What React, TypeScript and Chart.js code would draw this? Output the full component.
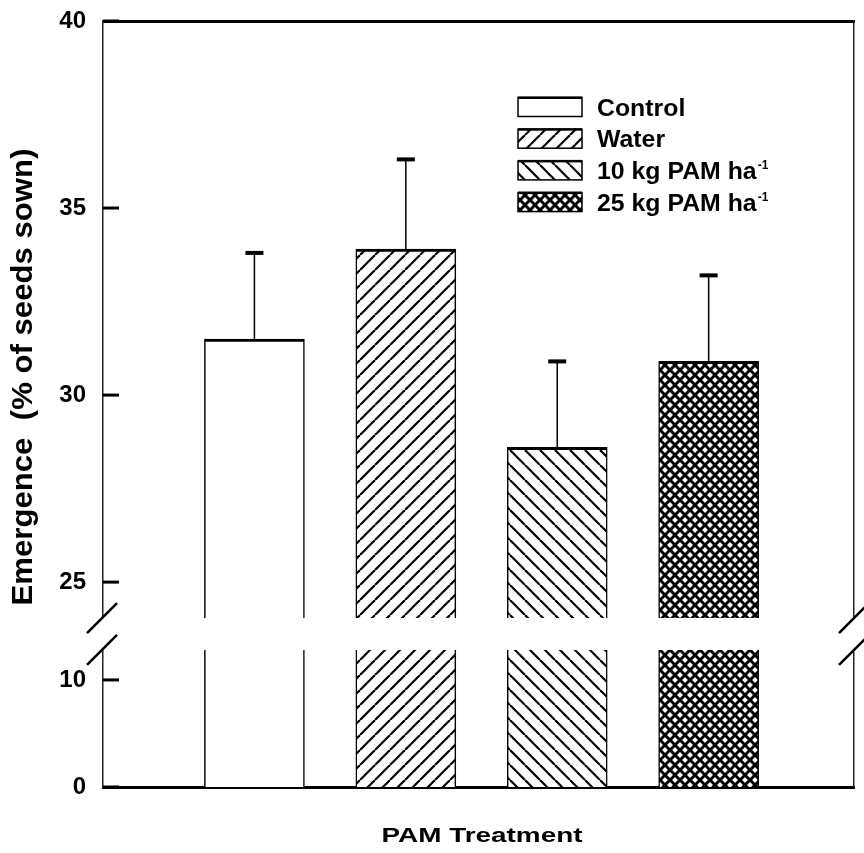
import React, { useEffect, useRef } from 'react';
import { Chart, registerables, LinearScale } from 'chart.js';

Chart.register(...registerables);

// ---- data ----
const categories = ['Control', 'Water', '10 kg PAM ha', '25 kg PAM ha'];
const unitSuperscripts = ['', '', '-1', '-1'];
const emergenceMeans = [31.5, 33.9, 28.6, 30.9];
const emergenceErrors = [2.3, 2.4, 2.3, 2.3];
const yTickValues = [0, 10, 25, 30, 35, 40];
const patternKinds = ['none', 'forward', 'backward', 'cross'];
const xTitle = 'PAM Treatment';
const yTitle = 'Emergence  (% of seeds sown)';

// ---- broken axis settings ----
const LOWER_MAX = 12.8;
const UPPER_MIN = 24.04;
const LOWER_FRAC = 0.1789;
const UPPER_FRAC = 0.2206;

const FONT = '"Liberation Sans", Arial, Helvetica, sans-serif';

class BrokenScale extends LinearScale {
  static id = 'broken';
  static defaults = LinearScale.defaults;
  getPixelForValue(value: number) {
    const min = this.min as number;
    const max = this.max as number;
    let d: number;
    if (value <= LOWER_MAX) d = ((value - min) / (LOWER_MAX - min)) * LOWER_FRAC;
    else if (value >= UPPER_MIN) d = UPPER_FRAC + ((value - UPPER_MIN) / (max - UPPER_MIN)) * (1 - UPPER_FRAC);
    else d = LOWER_FRAC + ((value - LOWER_MAX) / (UPPER_MIN - LOWER_MAX)) * (UPPER_FRAC - LOWER_FRAC);
    return this.getPixelForDecimal(d);
  }
  getValueForPixel(pixel: number) {
    const min = this.min as number;
    const max = this.max as number;
    const d = this.getDecimalForPixel(pixel);
    if (d <= LOWER_FRAC) return min + (d / LOWER_FRAC) * (LOWER_MAX - min);
    if (d >= UPPER_FRAC) return UPPER_MIN + ((d - UPPER_FRAC) / (1 - UPPER_FRAC)) * (max - UPPER_MIN);
    return LOWER_MAX + ((d - LOWER_FRAC) / (UPPER_FRAC - LOWER_FRAC)) * (UPPER_MIN - LOWER_MAX);
  }
}
Chart.register(BrokenScale as any);

function makePattern(kind: string): any {
  if (kind === 'none') return '#ffffff';
  const size = kind === 'cross' ? 10 : 15;
  const c = document.createElement('canvas');
  c.width = size;
  c.height = size;
  const g = c.getContext('2d')!;
  g.fillStyle = '#ffffff';
  g.fillRect(0, 0, size, size);
  g.strokeStyle = '#000';
  g.lineWidth = kind === 'cross' ? 3 : 2.2;
  const fwd = kind === 'forward' || kind === 'cross';
  const back = kind === 'backward' || kind === 'cross';
  for (let k = -1; k <= 1; k++) {
    if (fwd) {
      g.beginPath();
      g.moveTo(k * size, size);
      g.lineTo(k * size + size, 0);
      g.stroke();
    }
    if (back) {
      g.beginPath();
      g.moveTo(k * size, 0);
      g.lineTo(k * size + size, size);
      g.stroke();
    }
  }
  return g.createPattern(c, 'repeat');
}

// draws text horizontally stretched so that it spans targetWidth
function fittedText(
  ctx: CanvasRenderingContext2D,
  txt: string,
  x: number,
  y: number,
  size: number,
  targetWidth: number,
  align: CanvasTextAlign,
  rot = 0
) {
  ctx.save();
  ctx.font = `bold ${size}px ${FONT}`;
  const natural = ctx.measureText(txt).width;
  const sx = targetWidth / natural;
  ctx.translate(x, y);
  if (rot) ctx.rotate(rot);
  ctx.scale(sx, 1);
  ctx.textAlign = align;
  ctx.textBaseline = 'alphabetic';
  ctx.fillStyle = '#000';
  ctx.fillText(txt, 0, 0);
  ctx.restore();
  return targetWidth;
}

function scaledText(
  ctx: CanvasRenderingContext2D,
  txt: string,
  x: number,
  y: number,
  size: number,
  sx: number,
  align: CanvasTextAlign
) {
  ctx.save();
  ctx.font = `bold ${size}px ${FONT}`;
  const w = ctx.measureText(txt).width * sx;
  ctx.translate(x, y);
  ctx.scale(sx, 1);
  ctx.textAlign = align;
  ctx.textBaseline = 'alphabetic';
  ctx.fillStyle = '#000';
  ctx.fillText(txt, 0, 0);
  ctx.restore();
  return w;
}

export default function App() {
  const ref = useRef<HTMLCanvasElement>(null);

  useEffect(() => {
    const canvas = ref.current!;
    const patterns = patternKinds.map(makePattern);

    const overlay = {
      id: 'overlay',
      afterDatasetsDraw(chart: any) {
        const ctx: CanvasRenderingContext2D = chart.ctx;
        const area = chart.chartArea;
        const ys = chart.scales.y;
        const gapTop = ys.getPixelForValue(UPPER_MIN);
        const gapBottom = ys.getPixelForValue(LOWER_MAX);
        ctx.save();
        // white-out the axis break
        ctx.fillStyle = '#ffffff';
        ctx.fillRect(area.left - 4, gapTop, area.right - area.left + 14, gapBottom - gapTop);
        // break marks
        ctx.strokeStyle = '#000';
        ctx.lineWidth = 2.5;
        [area.left - 1, area.right].forEach((bx) => {
          [gapTop, gapBottom].forEach((by) => {
            ctx.beginPath();
            ctx.moveTo(bx - 15, by + 15);
            ctx.lineTo(bx + 15, by - 15);
            ctx.stroke();
          });
        });
        // inward tick marks
        ctx.lineWidth = 3;
        ys.ticks.forEach((t: any) => {
          const py = ys.getPixelForValue(t.value);
          ctx.beginPath();
          ctx.moveTo(area.left, py);
          ctx.lineTo(area.left + 16, py);
          ctx.stroke();
        });
        // error bars (upper whisker only)
        const meta = chart.getDatasetMeta(0);
        meta.data.forEach((el: any, i: number) => {
          const top = ys.getPixelForValue(emergenceMeans[i] + emergenceErrors[i]);
          ctx.lineWidth = 1.5;
          ctx.beginPath();
          ctx.moveTo(el.x, el.y);
          ctx.lineTo(el.x, top);
          ctx.stroke();
          ctx.fillStyle = '#000';
          ctx.fillRect(el.x - 9, top - 2, 18, 4);
        });
        ctx.restore();
      },
      afterDraw(chart: any) {
        const ctx: CanvasRenderingContext2D = chart.ctx;
        // axis titles
        fittedText(ctx, xTitle, 482, 842, 21, 201, 'center');
        fittedText(ctx, yTitle, 32, 377, 30, 457, 'center', -Math.PI / 2);
        // legend
        const boxX = 518;
        const boxW = 64;
        const boxH = 19;
        const textX = 597;
        const rowStart = 107;
        const rowGap = 31.7;
        categories.forEach((name, i) => {
          const cy = rowStart + i * rowGap;
          ctx.save();
          ctx.fillStyle = patterns[i];
          ctx.fillRect(boxX, cy - boxH / 2, boxW, boxH);
          ctx.strokeStyle = '#000';
          ctx.lineWidth = 1.5;
          ctx.strokeRect(boxX, cy - boxH / 2, boxW, boxH);
          ctx.fillStyle = '#000';
          ctx.fillRect(boxX, cy - boxH / 2 - 1, boxW, 2.5);
          ctx.restore();
          const w = scaledText(ctx, name, textX, cy + 8.5, 23, 1.08, 'left');
          if (unitSuperscripts[i]) {
            scaledText(ctx, unitSuperscripts[i], textX + w + 1, cy - 1, 12, 1.0, 'left');
          }
        });
      },
    };

    const chart = new Chart(canvas, {
      type: 'bar',
      data: {
        datasets: [
          {
            data: emergenceMeans.map((v, i) => ({ x: i + 1, y: v })) as any,
            backgroundColor: patterns,
            borderColor: '#000',
            borderWidth: { top: 3, left: 1.5, right: 1.5, bottom: 0 } as any,
            borderSkipped: 'bottom',
            barThickness: 100,
            xAxisID: 'x',
            yAxisID: 'y',
          },
        ],
      },
      options: {
        animation: false,
        responsive: false,
        events: [],
        layout: { padding: 0 },
        plugins: { legend: { display: false }, tooltip: { enabled: false } },
        scales: {
          x: {
            type: 'linear',
            position: 'bottom',
            offset: false,
            min: 0,
            max: 4.96,
            ticks: { display: false },
            grid: { display: false, drawTicks: false },
            border: { display: true, width: 3, color: '#000' },
            afterFit: (s: any) => {
              s.height = 66;
              s.paddingLeft = 0;
              s.paddingRight = 0;
            },
          },
          xTop: {
            type: 'linear',
            position: 'top',
            offset: false,
            min: 0,
            max: 4.96,
            ticks: { display: false },
            grid: { display: false, drawTicks: false },
            border: { display: true, width: 3, color: '#000' },
            afterFit: (s: any) => {
              s.height = 21;
              s.paddingLeft = 0;
              s.paddingRight = 0;
            },
          },
          y: {
            type: 'broken' as any,
            position: 'left',
            min: 0,
            max: 40,
            afterBuildTicks: (s: any) => {
              s.ticks = yTickValues.map((v) => ({ value: v }));
            },
            ticks: { font: { family: FONT, size: 24, weight: 'bold' }, color: '#000', padding: 17 },
            grid: { display: false, drawTicks: false },
            border: { display: true, width: 1.5, color: '#222', dash: [7, 4] },
            afterFit: (s: any) => {
              s.width = 103;
              s.paddingTop = 0;
              s.paddingBottom = 0;
            },
          },
          yRight: {
            type: 'linear',
            position: 'right',
            min: 0,
            max: 40,
            ticks: { display: false },
            grid: { display: false, drawTicks: false },
            border: { display: true, width: 1.5, color: '#222', dash: [7, 4] },
            afterFit: (s: any) => {
              s.width = 10;
              s.paddingTop = 0;
              s.paddingBottom = 0;
            },
          },
        } as any,
      },
      plugins: [overlay],
    });

    return () => chart.destroy();
  }, []);

  return (
    <div style={{ position: 'absolute', left: 0, top: 0, width: 864, height: 853, background: '#fff' }}>
      <canvas ref={ref} width={864} height={853} style={{ display: 'block' }} />
    </div>
  );
}
